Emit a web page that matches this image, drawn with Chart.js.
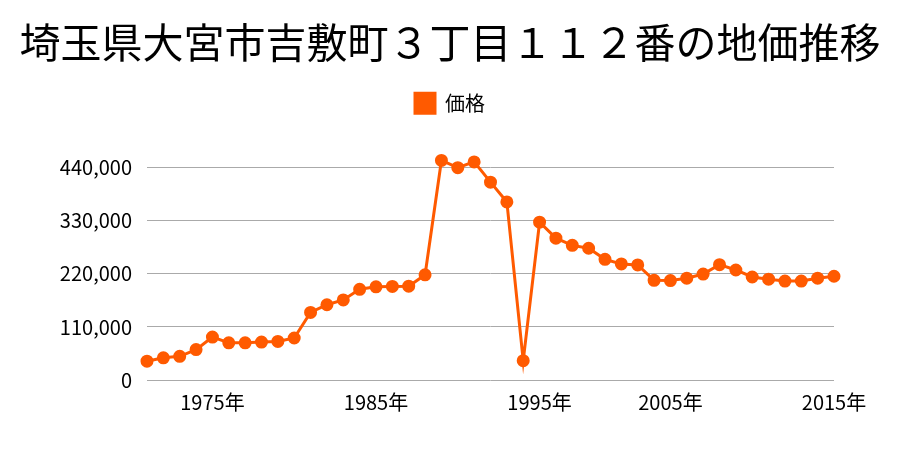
<!DOCTYPE html>
<html lang="ja">
<head>
  <meta charset="UTF-8" />
  <title>地価推移</title>
  <script src="https://cdn.jsdelivr.net/npm/chart.js"></script>
  <style>
    html, body { margin: 0; padding: 0; background: #fff; }
    #wrap { width: 900px; height: 450px; }
  </style>
</head>
<body>
  <div id="wrap"><canvas id="priceChart"></canvas></div>
  <script>
    // years on the x axis (two years are missing in the source between 1995 and 2005)
    const years = [
      1971, 1972, 1973, 1974, 1975, 1976, 1977, 1978, 1979, 1980,
      1981, 1982, 1983, 1984, 1985, 1986, 1987, 1988, 1989, 1990,
      1991, 1992, 1993, 1994, 1995, 1997, 1998, 1999, 2000, 2001,
      2002, 2004, 2005, 2006, 2007, 2008, 2009, 2010, 2011, 2012,
      2013, 2014, 2015
    ];
    const prices = [
      39000, 46000, 49000, 63000, 89000, 77000, 77000, 78500, 80000, 87000,
      140000, 156000, 166000, 188000, 193000, 194000, 194500, 218000, 455000, 440000,
      452000, 410000, 369000, 40000, 327000, 294000, 279000, 273000, 250000, 240500,
      238500, 206500, 206000, 211000, 219500, 239000, 228000, 213500, 209000, 205000,
      205000, 211000, 215000
    ];
    const yearTicks = [1975, 1985, 1995, 2005, 2015];
    const priceTicks = [0, 110000, 220000, 330000, 440000];

    const font = "'Noto Sans CJK JP', 'Noto Sans', sans-serif";
    const orange = "#ff5a00";

    // extra room between the legend and the plot
    const legendGap = {
      id: "legendGap",
      beforeInit(chart) {
        const fit = chart.legend.fit;
        chart.legend.fit = function () {
          fit.bind(chart.legend)();
          this.height += 30;
        };
      }
    };

    new Chart(document.getElementById("priceChart"), {
      type: "line",
      data: {
        labels: years,
        datasets: [{
          label: "価格",
          data: prices,
          borderColor: orange,
          backgroundColor: orange,
          borderWidth: 3,
          pointRadius: 5,
          pointHoverRadius: 5,
          tension: 0,
          clip: false
        }]
      },
      options: {
        responsive: true,
        maintainAspectRatio: false,
        animation: false,
        layout: { padding: { left: 0, right: 0, top: 12, bottom: 34 } },
        plugins: {
          title: {
            display: true,
            text: "埼玉県大宮市吉敷町３丁目１１２番の地価推移",
            color: "#000",
            font: { family: font, size: 41, weight: "normal" },
            padding: { top: 6, bottom: 16 }
          },
          legend: {
            labels: {
              color: "#000",
              boxWidth: 20,
              boxHeight: 20,
              font: { family: font, size: 20 }
            }
          },
          tooltip: { enabled: false }
        },
        scales: {
          x: {
            offset: false,
            grid: { display: false },
            border: { display: false },
            ticks: {
              color: "#000",
              autoSkip: false,
              maxRotation: 0,
              padding: 2,
              font: { family: font, size: 20 },
              callback: function (v, i) {
                const y = years[i];
                return yearTicks.includes(y) ? y + "年" : "";
              }
            }
          },
          y: {
            min: 0,
            max: 470000,
            afterBuildTicks: axis => { axis.ticks = priceTicks.map(v => ({ value: v })); },
            afterFit: axis => { axis.width = 147; },
            grid: { color: "#aaaaaa", lineWidth: 1, drawTicks: false },
            border: { display: false },
            ticks: {
              color: "#000",
              padding: 15,
              font: { family: font, size: 20 },
              callback: v => v.toLocaleString("en-US")
            }
          },
          // empty right-hand axis that only keeps space free
          yRight: {
            position: "right",
            grid: { display: false },
            border: { display: false },
            ticks: { display: false },
            afterFit: axis => { axis.width = 66; }
          }
        }
      },
      plugins: [legendGap]
    });
  </script>
</body>
</html>
